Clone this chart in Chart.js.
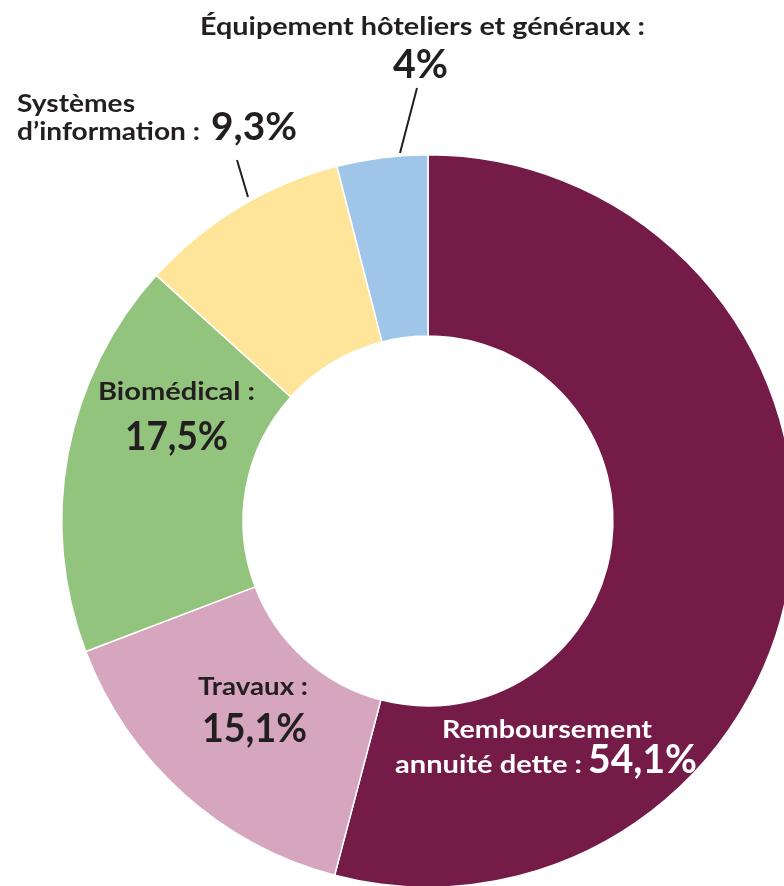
<!DOCTYPE html>
<html lang="fr">
<head>
    <meta charset="UTF-8">
    <title>Répartition des investissements</title>
    <script src="https://cdn.jsdelivr.net/npm/chart.js"></script>
    <style>
        html, body {
            margin: 0;
            padding: 0;
            background: #ffffff;
            overflow: hidden; /* the ring runs off the right and bottom edges */
            width: 784px;
            height: 886px;
        }
        #pie {
            position: absolute;
            left: 0;
            top: 0;
        }
    </style>
</head>
<body>
    <canvas id="pie" width="856" height="1042"></canvas>
    <script>
        // Data (clockwise from 12 o'clock)
        const labels = [
            'Remboursement annuité dette',
            'Travaux',
            'Biomédical',
            'Systèmes d’information',
            'Équipement hôteliers et généraux'
        ];
        const values = [54.1, 15.1, 17.5, 9.3, 4];
        const colors = ['#741B47', '#D5A6BD', '#93C47D', '#FFE599', '#9FC5E8'];

        const dark = '#231F20';
        const fontFamily = 'Lato, "Open Sans", sans-serif';

        function pct(v) { // 54.1 -> "54,1%"
            return String(v).replace('.', ',') + '%';
        }

        // Text lines: [text, left, right, baseline, size, colour]
        const textLines = [
            [labels[4] + ' :', 200, 645, 35, 25, dark],
            [pct(values[4]), 393, 448, 78, 41, dark],
            ['Systèmes', 17, 135, 112, 25, dark],
            ['d’information :', 17, 200, 140, 25, dark],
            [pct(values[3]), 211, 297, 140, 39, dark],
            [labels[2] + ' :', 98, 255, 400, 25, dark],
            [pct(values[2]), 125, 228, 450, 40, dark],
            [labels[1] + ' :', 198, 308, 695, 25, dark],
            [pct(values[1]), 202, 307, 742, 40, dark],
            ['Remboursement', 442, 652, 738, 25, '#ffffff'],
            ['annuité dette :', 395, 582, 773, 25, '#ffffff'],
            [pct(values[0]), 588, 697, 773, 40, '#ffffff']
        ];

        // Leader lines: [x1, y1, x2, y2]
        const leaders = [
            [417, 88, 400, 153],
            [237, 160, 248, 197]
        ];

        const labelPlugin = {
            id: 'labels',
            afterDraw(chart) {
                const ctx = chart.ctx;
                ctx.save();
                ctx.strokeStyle = dark;
                ctx.lineWidth = 2;
                leaders.forEach(l => {
                    ctx.beginPath();
                    ctx.moveTo(l[0], l[1]);
                    ctx.lineTo(l[2], l[3]);
                    ctx.stroke();
                });
                ctx.textBaseline = 'alphabetic';
                ctx.textAlign = 'left';
                textLines.forEach(t => {
                    const [text, left, right, base, size, col] = t;
                    ctx.font = 'bold ' + size + 'px ' + fontFamily;
                    ctx.fillStyle = col;
                    const w = ctx.measureText(text).width;
                    const sx = (right - left) / w; // stretch to the width of the original
                    ctx.save();
                    ctx.translate(left, base);
                    ctx.scale(sx, 1);
                    ctx.fillText(text, 0, 0);
                    ctx.restore();
                });
                ctx.restore();
            }
        };

        new Chart(document.getElementById('pie').getContext('2d'), {
            type: 'doughnut',
            data: {
                labels: labels,
                datasets: [{
                    data: values,
                    backgroundColor: colors,
                    borderColor: '#ffffff',
                    borderWidth: 1.5
                }]
            },
            options: {
                responsive: false,
                animation: false,
                cutout: '50.5%',
                layout: { padding: { left: 61, top: 154, right: 61, bottom: 154 } },
                plugins: {
                    legend: { display: false },
                    tooltip: { enabled: false }
                }
            },
            plugins: [labelPlugin]
        });
    </script>
</body>
</html>
